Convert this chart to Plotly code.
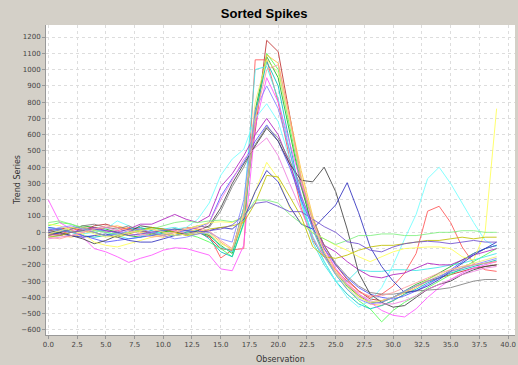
import plotly.graph_objects as go

observation = list(range(40))

s_darkred = [10, 20, 30, 10, 40, 50, 30, 20, 10, 0,
             10, 20, 10, 0, -30, -100, -110, 150, 620, 1180,
             1110, 720, 330, 80, -80, -200, -290, -360, -410, -420,
             -400, -370, -330, -300, -280, -260, -240, -220, -210, -200]
s_red = [-20, -10, 10, 30, 20, 0, 10, 30, 20, 20,
         0, 10, 30, 20, -20, -158, -108, -100, 1060, 1060,
         800, 450, 150, -50, -150, -230, -300, -360, -400, -380,
         -330, -250, -130, 130, 160, 60, -90, -190, -230, -240]
s_lgreen = [40, 60, 50, 20, 0, -20, -10, 0, 20, 30,
            10, 0, -10, -30, -60, -100, -150, 50, 700, 1100,
            1000, 650, 300, 20, -150, -260, -350, -420, -470, -550,
            -480, -430, -390, -340, -300, -260, -220, -180, -140, -100]
s_green = [-10, 0, 20, 40, 30, 20, 0, -20, -30, -10,
           0, 20, 10, 0, -20, -80, -130, 100, 750, 1080,
           950, 620, 280, 30, -130, -250, -330, -390, -430, -430,
           -400, -360, -320, -290, -250, -210, -170, -130, -100, -80]
s_orange = [0, -20, -30, -10, 10, 30, 40, 20, 0, -20,
            -30, -10, 0, 20, 0, -60, -110, 80, 680, 1090,
            1040, 720, 380, 100, -100, -230, -320, -390, -440, -450,
            -420, -380, -340, -300, -270, -240, -220, -200, -190, -180]
s_teal = [30, 20, 0, -20, -30, -20, 0, 20, 30, 10,
          -10, -20, 0, 10, -40, -120, -150, 60, 720, 1050,
          900, 550, 200, -30, -180, -300, -380, -440, -470, -450,
          -420, -380, -350, -310, -280, -250, -230, -210, -190, -170]
s_cyan = [-30, -20, 0, 10, 20, 0, -20, -40, -30, 0,
          20, 30, 10, 0, -10, -90, -120, 150, 1000, 1020,
          820, 500, 180, -60, -200, -300, -300, -230, -240, -240,
          -230, -230, -235, -225, -215, -200, -190, -170, -150, -130]
s_magenta = [200, 60, 20, -30, -100, -120, -150, -185, -160, -140,
             -110, -95, -100, -120, -140, -225, -236, -80, 650, 950,
             800, 550, 300, 80, -100, -220, -310, -380, -430, -480,
             -510, -520, -470, -400, -340, -290, -250, -220, -200, -180]
s_lcyan = [20, 10, 0, -10, 0, 20, 70, 40, -20, -20,
           10, 20, 30, 80, 180, 350, 450, 510, 700, 790,
           680, 450, 200, -20, -180, -300, -400, -460, -420, -340,
           -200, -40, 110, 330, 400, 300, 180, 60, -50, -90]
s_dmagenta = [-10, -20, 0, 20, 30, 10, 0, 20, 50, 50,
              80, 110, 80, 60, 100, 280, 360, 470, 600, 700,
              600, 420, 220, 50, -80, -120, -180, -230, -270, -280,
              -260, -250, -220, -190, -200, -200, -170, -140, -120, -100]
s_blue = [30, 20, 10, -20, -40, -60, -50, -40, -30, -20,
          -10, 0, 10, 30, 60, 220, 330, 430, 560, 660,
          560, 400, 200, 30, -100, -200, -280, -340, -380, -400,
          -410, -390, -360, -320, -280, -230, -180, -130, -100, -80]
s_gray = [-20, 0, 20, 40, 50, 30, 20, 40, 10, -10,
          -20, 0, 20, 40, 30, 130, 280, 400, 540, 650,
          580, 440, 280, 80, -80, -190, -270, -330, -370, -380,
          -380, -370, -360, -355, -350, -340, -320, -300, -290, -290]
s_dgray = [10, 0, -20, -40, -70, -50, -20, 0, 40, 30,
           20, 0, -10, 10, 40, 150, 300, 420, 530, 640,
           560, 420, 320, 310, 400, 250, 20, -250, -380, -430,
           -460, -450, -400, -350, -320, -300, -260, -230, -210, -200]
s_pink = [-40, -30, -20, 0, 20, 30, 10, -10, -20, 0,
          20, 10, -10, 0, 60, 200, 320, 450, 520, 580,
          470, 300, 130, -30, -150, -250, -320, -380, -420, -440,
          -440, -420, -390, -350, -320, -290, -260, -240, -220, -210]
s_yellow = [50, 40, 10, -10, -60, -80, -90, -70, -50, -30,
            -10, 0, 20, 40, 60, 65, 60, 100, 250, 430,
            330, 150, 60, 0, -40, -80, -110, -150, -180, -150,
            -120, -100, -95, -90, -90, -100, -150, -170, 0, 760]
s_dblue = [0, -10, -20, -30, -20, -10, -30, -50, -60, -60,
           -40, -20, -10, 0, 10, 30, 20, 80, 250, 380,
           310, 160, 50, 20, 96, 168, 305, 120, -90, -210,
           -300, -370, -360, -330, -290, -240, -190, -140, -100, -60]
s_olive = [-30, -20, 0, 10, 0, -20, -30, -10, 10, 30,
           20, 0, -20, -10, 20, 30, 40, 60, 180, 350,
           340, 220, 96, -88, -150, -160, -140, -110, -90, -80,
           -80, -70, -60, -50, -50, -40, -30, -40, -30, -30]
s_mint = [60, 70, 50, 30, 10, 0, -10, 0, 10, 20,
          40, 60, 70, 60, 70, 75, 65, 88, 198, 198,
          180, 110, 55, -5, -40, -75, -50, -20, -20, -10,
          -10, -20, -20, -10, 0, 0, 10, 10, 0, 0]
s_purple = [20, 10, 0, 10, 20, 10, 0, -20, -10, 0,
            10, 20, 10, 0, 10, 20, 45, 106, 178, 188,
            160, 127, 127, 80, 35, 0, -58, -70, -110, -120,
            -90, -70, -60, -55, -60, -70, -60, -50, -60, -60]
s_lyellow = [-10, 10, 30, 20, -10, -30, -20, 0, 10, 20,
             0, -20, -10, 0, -10, -70, -100, 120, 800, 1060,
             980, 680, 350, 80, -120, -250, -340, -400, -430, -420,
             -400, -370, -330, -290, -260, -230, -210, -190, -170, -150]
s_lblue = [10, 30, 40, 20, 0, -20, -10, 10, 20, 0,
           -20, -40, -30, -10, 0, -40, -60, 200, 750, 900,
           760, 500, 230, 20, -140, -260, -350, -410, -440, -430,
           -400, -360, -330, -300, -270, -240, -220, -200, -180, -160]
s_salmon = [-30, -40, -20, 0, 20, 40, 30, 10, -10, -30,
            -20, 0, 20, 30, 10, -50, -100, 100, 700, 1000,
            1030, 700, 330, 60, -120, -240, -320, -370, -390, -390,
            -370, -340, -310, -280, -250, -230, -210, -200, -190, -180]

series = [s_darkred, s_red, s_lgreen, s_green, s_orange, s_teal, s_cyan,
          s_magenta, s_lcyan, s_dmagenta, s_blue, s_gray, s_dgray, s_pink,
          s_yellow, s_dblue, s_olive, s_mint, s_purple, s_lyellow, s_lblue,
          s_salmon]
colors = ["#C03030", "#FF5555", "#55FF55", "#20B020", "#FFC040", "#00C0C0",
          "#40E8E8", "#FF55FF", "#70FFFF", "#B020C0", "#5555FF", "#808080",
          "#404040", "#F080E0", "#FFFF55", "#3030C0", "#C0C000", "#80F080",
          "#7050D0", "#F0F070", "#8888FF", "#FFA0A0"]

x_ticks = [0, 2.5, 5, 7.5, 10, 12.5, 15, 17.5, 20, 22.5, 25, 27.5, 30, 32.5, 35, 37.5, 40]
y_ticks = list(range(-600, 1201, 100))

fig = go.Figure()
for vals, col in zip(series, colors):
    fig.add_trace(go.Scatter(x=observation, y=vals, mode="lines",
                             line=dict(color=col, width=1), opacity=0.85,
                             showlegend=False, hoverinfo="skip"))

axis_font = dict(family="DejaVu Sans, Arial, sans-serif", size=7, color="#444444")
title_font = dict(family="DejaVu Sans, Arial, sans-serif", size=8, color="#333333")
fig.update_layout(
    width=518, height=365,
    paper_bgcolor="#D4D0C8", plot_bgcolor="#FFFFFF",
    margin=dict(l=46, r=3, t=25, b=30, autoexpand=False),
    title=dict(text="<b>Sorted Spikes</b>", x=0.51, xanchor="center",
               y=1 - 13 / 365, yanchor="middle", yref="container",
               font=dict(family="Liberation Sans, Arial, sans-serif", size=13, color="#000000")),
    xaxis=dict(range=[-0.2, 40.6], tickvals=x_ticks,
               ticktext=[f"{t:.1f}" for t in x_ticks],
               showgrid=True, gridcolor="#DDDDDD", griddash="dot", gridwidth=1,
               zeroline=False, showline=True, linecolor="#999999",
               ticks="outside", ticklen=3, tickcolor="#999999",
               tickfont=axis_font, automargin=False),
    yaxis=dict(range=[-631, 1274], tickvals=y_ticks,
               showgrid=True, gridcolor="#DDDDDD", griddash="dot", gridwidth=1,
               zeroline=False, showline=True, linecolor="#999999",
               ticks="outside", ticklen=3, tickcolor="#999999",
               tickfont=axis_font, automargin=False),
    annotations=[
        dict(text="Observation", xref="paper", yref="paper", x=0.5, y=-24 / 310,
             xanchor="center", yanchor="middle", showarrow=False, font=title_font),
        dict(text="Trend Series", xref="paper", yref="paper", x=-29 / 469, y=0.5,
             xanchor="center", yanchor="middle", textangle=-90, showarrow=False,
             font=title_font),
    ],
)

fig.write_html("out.html", config={"displayModeBar": False},
               post_script="document.body.style.margin='0px';document.body.style.background='#D4D0C8';")
